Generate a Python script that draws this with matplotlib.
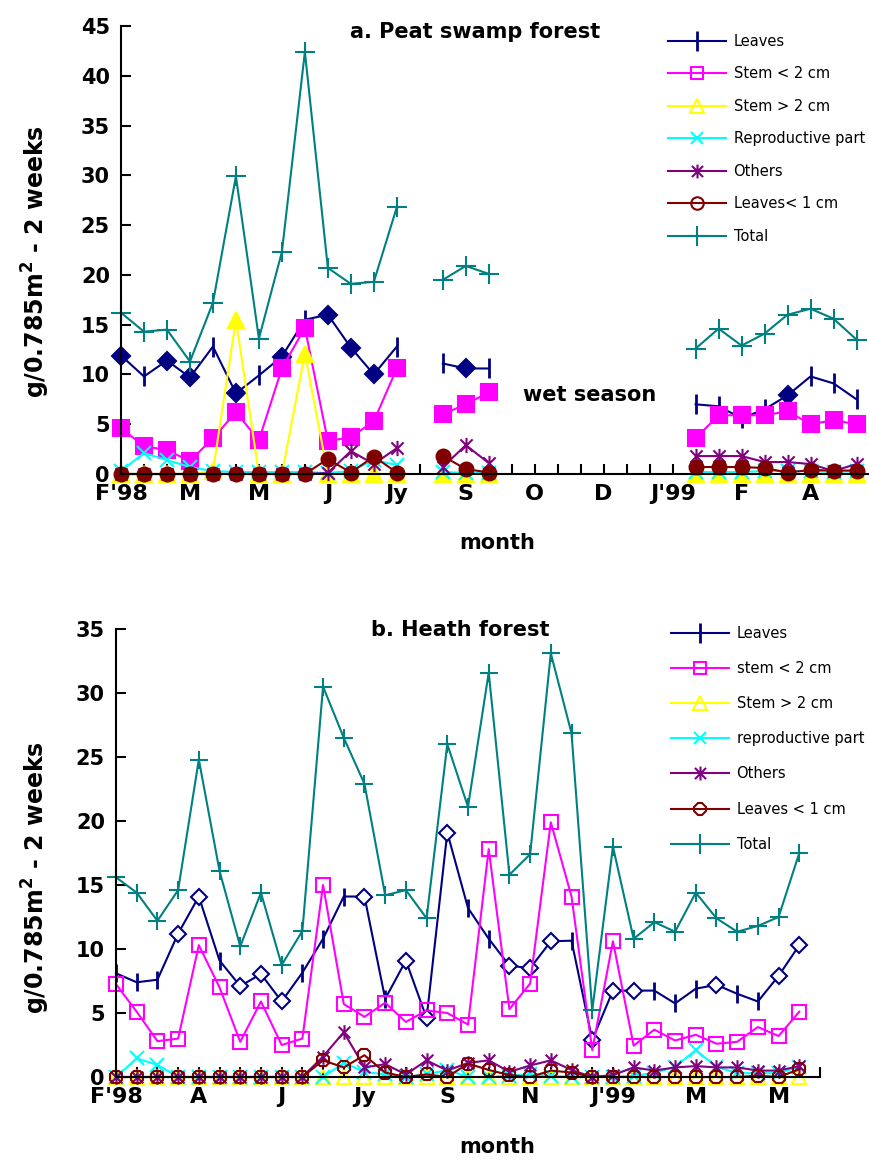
import numpy as np
import matplotlib
matplotlib.use("Agg")
import matplotlib.pyplot as plt
from matplotlib.path import Path
from matplotlib.lines import Line2D

nan = np.nan

# ---------------- panel a: peat swamp forest (33 bi-weekly samples) ----------------
a_labels = ["F'98", "M", "M", "J", "Jy", "S", "O", "D", "J'99", "F", "A"]
a_label_pos = [0, 3, 6, 9, 12, 15, 18, 21, 24, 27, 30]

a_leaves = [11.9, 9.8, 11.4, 9.7, 12.8, 8.1, 9.9, 11.8, 15.5, 16.0, 12.7, 10.0, 12.8,
            nan, 11.1, 10.6, 10.6, nan, nan, nan, nan, nan, nan, nan, nan,
            7.0, 6.8, 5.6, 6.5, 7.9, 9.8, 9.1, 7.5]
a_leaves_diamond = [0, 2, 3, 5, 7, 9, 10, 11, 15, 29]
a_stem_small = [4.6, 2.8, 2.4, 1.3, 3.6, 6.2, 3.4, 10.6, 14.7, 3.3, 3.7, 5.3, 10.6,
                nan, 6.0, 7.0, 8.2, nan, nan, nan, nan, nan, nan, nan, nan,
                3.6, 5.9, 5.9, 5.9, 6.3, 5.0, 5.4, 5.0]
a_stem_large = [0, 0, 0, 0, 0.3, 15.5, 0, 0, 12.1, 0, 0, 0, 0,
                nan, 0, 0, 0, nan, nan, nan, nan, nan, nan, nan, nan,
                0, 0, 0, 0, 0, 0, 0, 0]
a_repro = [0.3, 2.1, 1.4, 0.7, 0.3, 0.2, 0.2, 0.2, 0.2, 0.1, 0.3, 1.4, 0.9,
           nan, 0.2, 0.1, 0.1, nan, nan, nan, nan, nan, nan, nan, nan,
           0.2, 0.2, 0.2, 0.3, 0.3, 0.3, 0.2, 0.3]
a_others = [0, 0, 0, 0, 0, 0, 0, 0, 0, 0.1, 2.3, 1.0, 2.6,
            nan, 0.7, 2.9, 1.1, nan, nan, nan, nan, nan, nan, nan, nan,
            1.8, 1.8, 1.8, 1.2, 1.2, 1.0, 0.3, 1.0]
a_leaves_small = [0, 0, 0, 0, 0, 0, 0, 0, 0, 1.5, 0.15, 1.75, 0.15,
                  nan, 1.8, 0.5, 0.15, nan, nan, nan, nan, nan, nan, nan, nan,
                  0.7, 0.7, 0.7, 0.6, 0.15, 0.4, 0.35, 0.35]
a_total = [16.2, 14.3, 14.5, 11.3, 17.2, 29.9, 13.6, 22.3, 42.4, 20.7, 19.1, 19.3, 26.8,
           nan, 19.5, 20.9, 20.1, nan, nan, nan, nan, nan, nan, nan, nan,
           12.6, 14.6, 12.9, 14.1, 16.0, 16.6, 15.6, 13.5]

# ---------------- panel b: heath forest (34 bi-weekly samples) ----------------
b_labels = ["F'98", "A", "J", "Jy", "S", "N", "J'99", "M", "M"]
b_label_pos = [0, 4, 8, 12, 16, 20, 24, 28, 32]

b_leaves = [8.1, 7.4, 7.6, 11.2, 14.1, 9.1, 7.1, 8.05, 5.9, 8.15, 10.8, 14.1, 14.1,
            6.1, 9.1, 4.6, 19.1, 13.2, 10.8, 8.7, 8.5, 10.6, 10.65, 2.9, 6.75,
            6.75, 6.75, 5.75, 6.9, 7.2, 6.5, 5.9, 7.9, 10.3]
b_leaves_diamond = [3, 4, 6, 7, 8, 12, 14, 15, 16, 19, 20, 21, 23, 24, 25, 29, 32, 33]
b_stem_small = [7.25, 5.1, 2.8, 3.0, 10.3, 7.0, 2.75, 5.9, 2.5, 3.0, 15.0, 5.7, 4.7,
                5.8, 4.3, 5.2, 5.0, 4.1, 17.8, 5.3, 7.3, 19.9, 14.1, 2.1, 10.6,
                2.45, 3.7, 2.85, 3.3, 2.6, 2.75, 3.9, 3.2, 5.1]
b_stem_large = [0] * 34
b_repro = [0, 1.45, 0.95, 0, 0, 0, 0, 0, 0, 0, 0, 1.1, 0.4,
           0.2, 0, 0.2, 0.55, 0, 0, 0.1, 0.2, 0.1, 0, 0, 0,
           0.1, 0.3, 0.8, 2.1, 0.8, 0.3, 0.3, 0.3, 0.8]
b_others = [0, 0, 0, 0, 0, 0, 0, 0, 0, 0, 1.6, 3.5, 0.75,
            1.0, 0.2, 1.3, 0.5, 1.1, 1.3, 0.4, 0.9, 1.3, 0.55, 0.0, 0.15,
            0.75, 0.5, 0.75, 0.85, 0.75, 0.75, 0.5, 0.5, 0.85]
b_leaves_small = [0, 0, 0, 0, 0, 0, 0, 0, 0, 0, 1.3, 0.75, 1.7,
                  0.35, 0, 0.2, 0, 1.05, 0.55, 0.15, 0, 0.5, 0.35, 0, 0,
                  0, 0, 0, 0, 0, 0, 0.1, 0, 0.6]
b_total = [15.6, 14.4, 12.2, 14.6, 24.8, 16.1, 10.2, 14.4, 8.75, 11.4, 30.5, 26.5, 22.9,
           14.2, 14.6, 12.4, 26.0, 21.1, 31.6, 15.8, 17.4, 33.1, 26.85, 5.2, 18.0,
           10.8, 12.1, 11.35, 14.4, 12.4, 11.35, 11.8, 12.5, 17.5]

NAVY = "#000080"
MAGENTA = "#FF00FF"
YELLOW = "#FFFF00"
CYAN = "#00FFFF"
PURPLE = "#800080"
DARKRED = "#800000"
TEAL = "#008080"

# asterisk marker: vertical bar plus an x
star = Path([(0, -1), (0, 1), (-0.8, -0.8), (0.8, 0.8), (-0.8, 0.8), (0.8, -0.8)],
            [Path.MOVETO, Path.LINETO, Path.MOVETO, Path.LINETO, Path.MOVETO, Path.LINETO])

fig = plt.figure(figsize=(8.7, 11.6), dpi=100)


def draw_panel(ax, filled, x_max, leaves, diamonds, stem_s, stem_l, repro, others,
               leaves_s, total, ymax, labels, label_pos):
    x = np.arange(len(total))
    lw = 1.5
    ms = 10 if filled else 9.5
    kw = dict(lw=lw, clip_on=False)

    # leaves: line, then diamonds and bars as markers
    lv = np.array(leaves, dtype=float)
    ax.plot(x, lv, color=NAVY, **kw)
    is_d = np.isin(x, diamonds)
    ax.plot(x[is_d], lv[is_d], ls="none", marker="D", ms=ms - 1,
            mfc=NAVY if filled else "white", mec=NAVY, mew=1.5, clip_on=False)
    ax.plot(x[~is_d], lv[~is_d], ls="none", marker="|", ms=ms + 4,
            mec=NAVY, mew=2, clip_on=False)

    face = (lambda c: c) if filled else (lambda c: "none")
    ax.plot(x, stem_s, color=MAGENTA, marker="s", ms=ms + 1, mfc=face(MAGENTA),
            mec=MAGENTA, mew=1.5, **kw)
    ax.plot(x, stem_l, color=YELLOW, marker="^", ms=ms + 1, mfc=face(YELLOW),
            mec=YELLOW, mew=1.5, **kw)
    ax.plot(x, repro, color=CYAN, marker="x", ms=ms, mew=1.5, **kw)
    ax.plot(x, others, color=PURPLE, marker=star, ms=ms + 1, mew=1.5, **kw)
    ax.plot(x, leaves_s, color=DARKRED, marker="o" if filled else "8", ms=ms,
            mfc=face(DARKRED), mec=DARKRED, mew=1.5, **kw)
    ax.plot(x, total, color=TEAL, marker="+", ms=ms + 4, mew=1.5, **kw)

    ax.set_xlim(0, x_max)
    ax.set_ylim(0, ymax)
    ax.set_yticks(np.arange(0, ymax + 1, 5))
    ax.set_xticks(label_pos)
    ax.set_xticklabels(labels)
    ax.set_xticks(np.arange(0, int(x_max) + 1), minor=True)
    for s in ["top", "right"]:
        ax.spines[s].set_visible(False)
    for s in ["left", "bottom"]:
        ax.spines[s].set_linewidth(1.5)
    ax.tick_params(axis="both", which="both", direction="in", length=7, width=1.5)
    ax.tick_params(axis="x", which="major", pad=7)
    ax.tick_params(axis="y", which="major", pad=8)
    for t in ax.get_xticklabels():
        t.set_fontsize(16)
        t.set_fontweight("bold")
    for t in ax.get_yticklabels():
        t.set_fontsize(15)
        t.set_fontweight("bold")


def legend_handles(filled, names):
    ms = 9
    return [
        Line2D([], [], color=NAVY, lw=1.5, marker="|", ms=14, mew=2),
        Line2D([], [], color=MAGENTA, lw=1.5, marker="s", ms=ms, mfc="none", mew=1.5),
        Line2D([], [], color=YELLOW, lw=1.5, marker="^", ms=ms + 1, mfc="none", mew=1.5),
        Line2D([], [], color=CYAN, lw=1.5, marker="x", ms=ms, mew=1.5),
        Line2D([], [], color=PURPLE, lw=1.5, marker=star, ms=ms + 1, mew=1.5),
        Line2D([], [], color=DARKRED, lw=1.5, marker="o" if filled else "8", ms=ms,
               mfc="none", mew=1.5),
        Line2D([], [], color=TEAL, lw=1.5, marker="+", ms=14, mew=1.5),
    ], names


ylab = r"g/0.785m$^\mathbf{2}$ - 2 weeks"

# panel a
ax1 = fig.add_axes([121 / 870, 1 - 474 / 1160, 747 / 870, 448 / 1160])
draw_panel(ax1, True, 32.5, a_leaves, a_leaves_diamond, a_stem_small, a_stem_large,
           a_repro, a_others, a_leaves_small, a_total, 45, a_labels, a_label_pos)
h, n = legend_handles(True, ["Leaves", "Stem < 2 cm", "Stem > 2 cm", "Reproductive part",
                             "Others", "Leaves< 1 cm", "Total"])
fig.legend(h, n, loc="upper left", bbox_to_anchor=(668 / 870, 1 - 34 / 1160),
           frameon=False, fontsize=10.5, handlelength=4.0, handletextpad=0.5,
           labelspacing=1.2, borderpad=0, borderaxespad=0)
fig.text(475 / 870, 1 - 32 / 1160, "a. Peat swamp forest", ha="center", va="center",
         fontsize=15, fontweight="bold")
fig.text(590 / 870, 1 - 395 / 1160, "wet season", ha="center", va="center",
         fontsize=15, fontweight="bold")
fig.text(497 / 870, 1 - 543 / 1160, "month", ha="center", va="center",
         fontsize=15, fontweight="bold")
fig.text(36 / 870, 1 - 262 / 1160, ylab, ha="center", va="center", rotation=90,
         fontsize=17, fontweight="bold")

# panel b
ax2 = fig.add_axes([116 / 870, 1 - 1077 / 1160, 704 / 870, 448 / 1160])
draw_panel(ax2, False, 34, b_leaves, b_leaves_diamond, b_stem_small, b_stem_large,
           b_repro, b_others, b_leaves_small, b_total, 35, b_labels, b_label_pos)
h, n = legend_handles(False, ["Leaves", "stem < 2 cm", "Stem > 2 cm", "reproductive part",
                              "Others", "Leaves < 1 cm", "Total"])
fig.legend(h, n, loc="upper left", bbox_to_anchor=(671 / 870, 1 - 626 / 1160),
           frameon=False, fontsize=10.5, handlelength=4.0, handletextpad=0.5,
           labelspacing=1.38, borderpad=0, borderaxespad=0)
fig.text(460 / 870, 1 - 630 / 1160, "b. Heath forest", ha="center", va="center",
         fontsize=15, fontweight="bold")
fig.text(497 / 870, 1 - 1147 / 1160, "month", ha="center", va="center",
         fontsize=15, fontweight="bold")
fig.text(36 / 870, 1 - 878 / 1160, ylab, ha="center", va="center", rotation=90,
         fontsize=17, fontweight="bold")

fig.savefig("out.png", dpi=100)
